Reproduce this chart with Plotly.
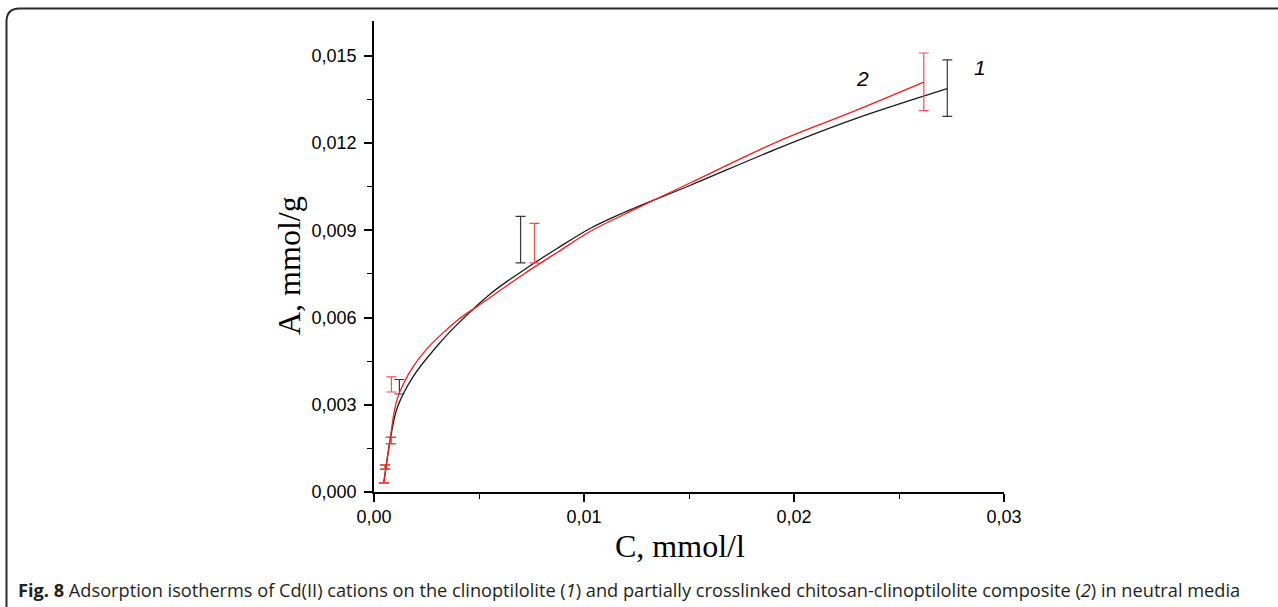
import plotly.graph_objects as go

# ---- data ----
# fitted isotherm curves (C in mmol/l, A in mmol/g)
curve1_C = [0.000467, 0.000786, 0.001119, 0.001881, 0.003167, 0.003976, 0.005548, 0.007119,
            0.008738, 0.010310, 0.011881, 0.015071, 0.019357, 0.022833, 0.027295]
curve1_A = [0.000320, 0.001856, 0.002921, 0.003986, 0.005155, 0.005773, 0.006821, 0.007629,
            0.008385, 0.009072, 0.009605, 0.010550, 0.011856, 0.012818, 0.013873]

curve2_C = [0.000467, 0.000752, 0.000976, 0.001119, 0.001405, 0.001881, 0.002548, 0.003167,
            0.003976, 0.004929, 0.005548, 0.007119, 0.008738, 0.010310, 0.011881, 0.013024,
            0.015071, 0.019357, 0.022833, 0.026181]
curve2_A = [0.000320, 0.001729, 0.002818, 0.003230, 0.003729, 0.004330, 0.004948, 0.005395,
            0.005911, 0.006392, 0.006701, 0.007491, 0.008247, 0.008969, 0.009536, 0.009931,
            0.010636, 0.012096, 0.013093, 0.014100]

# experimental points with error bars
pts1_C = [0.00047, 0.00054, 0.00081, 0.00121, 0.00698, 0.02730]
pts1_A = [0.00031, 0.00086, 0.00177, 0.00362, 0.00868, 0.01389]
pts1_err = [0.00001, 0.00007, 0.00011, 0.00025, 0.00080, 0.00097]

pts2_C = [0.00047, 0.00052, 0.00079, 0.00083, 0.00764, 0.02618]
pts2_A = [0.00031, 0.00086, 0.00177, 0.00370, 0.00856, 0.01411]
pts2_err = [0.00001, 0.00007, 0.00011, 0.00026, 0.00068, 0.00099]

x_tickvals = [0.0, 0.01, 0.02, 0.03]
x_ticktext = ["0,00", "0,01", "0,02", "0,03"]
y_tickvals = [0.0, 0.003, 0.006, 0.009, 0.012, 0.015]
y_ticktext = ["0,000", "0,003", "0,006", "0,009", "0,012", "0,015"]

caption = ("<b>Fig. 8</b> Adsorption isotherms of Cd(II) cations on the clinoptilolite (<i>1</i>) "
           "and partially crosslinked chitosan-clinoptilolite composite (<i>2</i>) in neutral media")

# ---- figure ----
W, H = 1278, 607
L, R, T, B = 374, 274, 21, 115
pw, ph = W - L - R, H - T - B


def xp(px):
    return (px - L) / pw


def yp(py):
    return (H - B - py) / ph


fig = go.Figure()

fig.add_trace(go.Scatter(x=pts1_C, y=pts1_A, mode="markers",
                         marker=dict(size=2, opacity=0),
                         error_y=dict(type="data", array=pts1_err, visible=True,
                                      color="#3a3a3a", thickness=1.2, width=5),
                         showlegend=False, hoverinfo="skip"))
fig.add_trace(go.Scatter(x=curve1_C, y=curve1_A, mode="lines",
                         line=dict(color="#1a1a1a", width=1.3, shape="spline", smoothing=1.0),
                         showlegend=False))
fig.add_trace(go.Scatter(x=pts2_C, y=pts2_A, mode="markers",
                         marker=dict(size=2, opacity=0),
                         error_y=dict(type="data", array=pts2_err, visible=True,
                                      color="#ff4a4a", thickness=1.2, width=5),
                         showlegend=False, hoverinfo="skip"))
fig.add_trace(go.Scatter(x=curve2_C, y=curve2_A, mode="lines",
                         line=dict(color="#ff1a1a", width=1.3, shape="spline", smoothing=1.0),
                         showlegend=False))

axis_common = dict(showline=True, linecolor="black", linewidth=1.6, ticks="outside",
                   ticklen=8, tickwidth=1.6, tickcolor="black", showgrid=False, zeroline=False,
                   tickfont=dict(family="Arial, Liberation Sans", size=18, color="black"))

fig.update_xaxes(range=[0, 0.03], tickmode="array", tickvals=x_tickvals, ticktext=x_ticktext,
                 minor=dict(tickmode="linear", tick0=0, dtick=0.005, ticks="outside",
                            ticklen=5, tickwidth=1.4, tickcolor="black"),
                 **axis_common)
fig.update_yaxes(range=[0, 0.0162], tickmode="array", tickvals=y_tickvals, ticktext=y_ticktext,
                 minor=dict(tickmode="linear", tick0=0, dtick=0.0015, ticks="outside",
                            ticklen=5, tickwidth=1.4, tickcolor="black"),
                 ticklabelstandoff=4,
                 **axis_common)

annotations = [
    dict(text="A, mmol/g", x=xp(289), y=yp(266), xref="paper", yref="paper", showarrow=False,
         xanchor="center", yanchor="middle", textangle=-90,
         font=dict(family="Times New Roman, Liberation Serif", size=32, color="black")),
    dict(text="C, mmol/l", x=xp(680), y=yp(546), xref="paper", yref="paper", showarrow=False,
         xanchor="center", yanchor="middle",
         font=dict(family="Times New Roman, Liberation Serif", size=32, color="black")),
    dict(text="<i>2</i>", x=0.02324, y=0.01423, xref="x", yref="y", showarrow=False,
         xanchor="center", yanchor="middle",
         font=dict(family="Arial, Liberation Sans", size=21, color="black")),
    dict(text="<i>1</i>", x=0.02886, y=0.01460, xref="x", yref="y", showarrow=False,
         xanchor="center", yanchor="middle",
         font=dict(family="Arial, Liberation Sans", size=21, color="black")),
    dict(text=caption, x=xp(16), y=yp(590), xref="paper", yref="paper", showarrow=False,
         xanchor="left", yanchor="middle", align="left",
         font=dict(family="Open Sans", size=18.2, color="#231f20")),
]

# rounded outer frame
x0, yt, r = 6.5, 8.5, 13
frame_path = (f"M {xp(x0)} {yp(640)} L {xp(x0)} {yp(yt + r)} "
              f"Q {xp(x0)} {yp(yt)} {xp(x0 + r)} {yp(yt)} L {xp(1300)} {yp(yt)}")

fig.update_layout(
    width=W, height=H,
    margin=dict(l=L, r=R, t=T, b=B),
    paper_bgcolor="white", plot_bgcolor="white",
    annotations=annotations,
    shapes=[dict(type="path", path=frame_path, xref="paper", yref="paper",
                 line=dict(color="#2b2b2b", width=2))],
)

fig.write_html("out.html", config={"displayModeBar": False},
               post_script="document.body.style.margin='0';")
